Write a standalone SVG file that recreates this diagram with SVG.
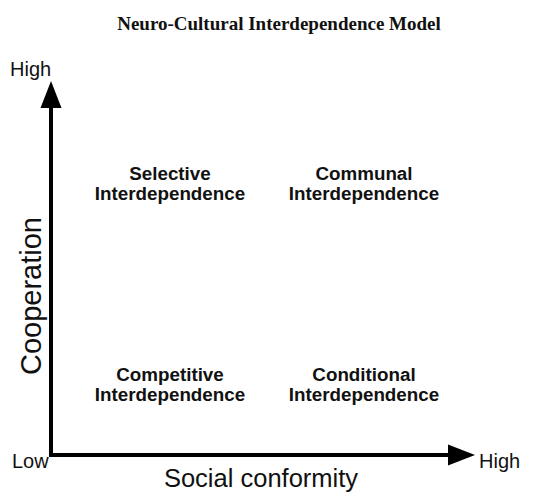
<svg xmlns="http://www.w3.org/2000/svg" width="542" height="493" viewBox="0 0 542 493">
<style>
.title{font-family:"Liberation Serif","Times New Roman",serif;font-weight:bold;font-size:19px;fill:#111}
.ax{font-family:"Liberation Sans",Arial,sans-serif;font-size:20px;fill:#111}
.axt{font-family:"Liberation Sans",Arial,sans-serif;font-size:25.5px;fill:#111}
.q{font-family:"Liberation Sans",Arial,sans-serif;font-weight:bold;font-size:18.8px;fill:#111;text-anchor:middle}
.line{stroke:#000;stroke-width:4;fill:none}
</style>
<rect width="542" height="493" fill="#fff"/>
<text class="title" x="279" y="30" text-anchor="middle">Neuro-Cultural Interdependence Model</text>
<g id="connectors">
<path class="line" d="M51,108 V455 H448"/>
<polygon points="51,81 40.5,108 61.5,108" fill="#000"/>
<polygon points="475,455 448,444.5 448,465.5" fill="#000"/>
</g>
<g id="axis-labels">
<text class="ax" x="10" y="76">High</text>
<text class="ax" x="12" y="468">Low</text>
<text class="ax" x="479" y="468">High</text>
<text class="axt" x="261" y="487" text-anchor="middle">Social conformity</text>
<text class="axt" transform="translate(41,296) rotate(-90)" text-anchor="middle" style="font-size:29px">Cooperation</text>
</g>
<g id="selective">
<text class="q" x="170" y="180">Selective</text>
<text class="q" x="170" y="200">Interdependence</text>
</g>
<g id="communal">
<text class="q" x="364" y="180">Communal</text>
<text class="q" x="364" y="200">Interdependence</text>
</g>
<g id="competitive">
<text class="q" x="170" y="381">Competitive</text>
<text class="q" x="170" y="401">Interdependence</text>
</g>
<g id="conditional">
<text class="q" x="364" y="381">Conditional</text>
<text class="q" x="364" y="401">Interdependence</text>
</g>
</svg>
